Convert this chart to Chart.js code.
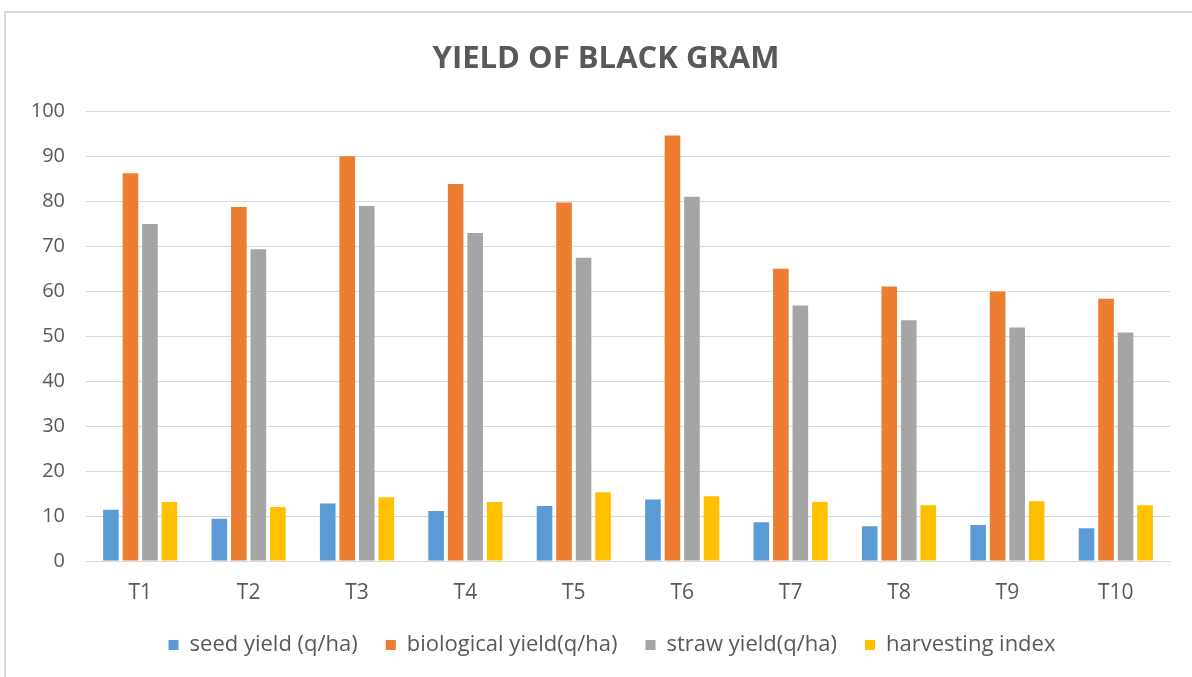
<!DOCTYPE html>
<html>
<head>
<meta charset="utf-8">
<script src="https://cdn.jsdelivr.net/npm/chart.js@4.4.1/dist/chart.umd.min.js"></script>
<style>
  html, body { margin: 0; padding: 0; background: #ffffff; overflow: hidden; }
  #frame {
    position: absolute; left: 4px; top: 11px; width: 1210px; height: 700px;
    border-top: 2px solid #d9d9d9; border-left: 2px solid #d9d9d9; box-sizing: border-box;
  }
  #wrap { position: absolute; left: 0; top: 0; width: 1192px; height: 677px; }
</style>
</head>
<body>
<div id="frame"></div>
<div id="wrap"><canvas id="chart" width="1192" height="677"></canvas></div>
<script>
const categories = ['T1', 'T2', 'T3', 'T4', 'T5', 'T6', 'T7', 'T8', 'T9', 'T10'];
const seedYield = [11.4, 9.4, 12.8, 11.1, 12.2, 13.7, 8.6, 7.7, 8.0, 7.3];
const biologicalYield = [86.2, 78.7, 90.0, 83.8, 79.7, 94.6, 65.0, 61.0, 59.9, 58.3];
const strawYield = [74.9, 69.3, 78.9, 72.9, 67.4, 81.0, 56.8, 53.5, 51.9, 50.8];
const harvestingIndex = [13.1, 12.0, 14.2, 13.1, 15.3, 14.4, 13.1, 12.4, 13.3, 12.4];
const seriesNames = ['seed yield (q/ha)', 'biological yield(q/ha)', 'straw yield(q/ha)', 'harvesting index'];
const yTicks = [0, 10, 20, 30, 40, 50, 60, 70, 80, 90, 100];

const colors = ['#5B9BD5', '#ED7D31', '#A5A5A5', '#FFC000'];
const textColor = '#595959';
const fontFamily = '"Open Sans", Lato, sans-serif';

const values = [seedYield, biologicalYield, strawYield, harvestingIndex];
const datasets = seriesNames.map((name, i) => ({
  label: name,
  data: values[i],
  backgroundColor: colors[i],
  borderWidth: 0,
  barPercentage: 0.8,
  categoryPercentage: 0.72
}));

// The chart frame runs a little past the right edge of the canvas, so the
// title and legend are centred on the frame rather than on the canvas.
const centreOnFrame = {
  id: 'centreOnFrame',
  afterLayout(chart) {
    if (chart.titleBlock) { chart.titleBlock.left += 21; chart.titleBlock.right += 21; }
    if (chart.legend) { chart.legend.left += 27; chart.legend.right += 27; }
  }
};

new Chart(document.getElementById('chart'), {
  type: 'bar',
  data: { labels: categories, datasets },
  plugins: [centreOnFrame],
  options: {
    responsive: false,
    animation: false,
    devicePixelRatio: 1,
    layout: { padding: { left: 0, right: 22, top: 0, bottom: 11 } },
    plugins: {
      title: {
        display: true,
        text: 'YIELD OF BLACK GRAM',
        color: textColor,
        font: { family: fontFamily, size: 31, weight: 'bold' },
        padding: { top: 41, bottom: 33 }
      },
      legend: {
        position: 'bottom',
        labels: {
          color: textColor,
          font: { family: fontFamily, size: 22 },
          boxWidth: 10,
          boxHeight: 10,
          padding: 28
        }
      },
      tooltip: { enabled: false }
    },
    scales: {
      x: {
        afterFit: (scale) => { scale.height = 45; },
        grid: { display: false, drawTicks: false },
        border: { display: true, color: '#d9d9d9', width: 1 },
        ticks: { color: textColor, font: { family: fontFamily, size: 21 }, padding: 19 }
      },
      y: {
        min: 0,
        max: 100,
        afterFit: (scale) => { scale.width = 86; },
        afterBuildTicks: (scale) => { scale.ticks = yTicks.map(v => ({ value: v })); },
        grid: { color: '#d9d9d9', lineWidth: 1, drawTicks: false },
        border: { display: false },
        ticks: { color: textColor, font: { family: fontFamily, size: 20 }, padding: 21 }
      }
    }
  }
});
</script>
</body>
</html>
